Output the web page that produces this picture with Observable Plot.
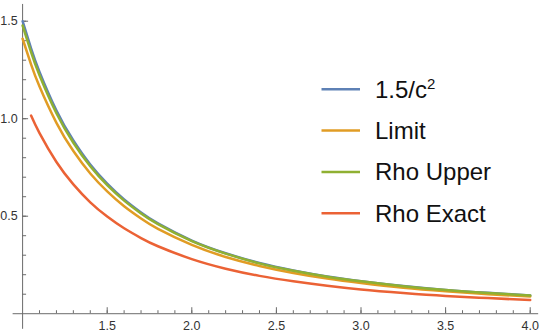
<!DOCTYPE html>
<html><head><meta charset="utf-8">
<script src="https://cdn.jsdelivr.net/npm/d3@7"></script>
<script src="https://cdn.jsdelivr.net/npm/@observablehq/plot@0.6"></script>
<style>body{margin:0;background:#fff;} #chart svg{display:block;font-family:'Liberation Sans',Arial,sans-serif;}</style>
</head><body><div id="chart"></div><script>
// ---- data ----
const cValues   = [1.0, 1.05, 1.1, 1.2, 1.3, 1.4, 1.5, 1.6, 1.7, 1.8, 2.0, 2.2, 2.4, 2.6, 2.8, 3.0, 3.25, 3.5, 3.75, 4.0];
const invSquare = [1.500, 1.361, 1.240, 1.042, 0.888, 0.765, 0.667, 0.586, 0.519, 0.463, 0.375, 0.310, 0.260, 0.222, 0.191, 0.167, 0.142, 0.122, 0.107, 0.094];
const limit     = [1.410, 1.279, 1.165, 0.979, 0.834, 0.719, 0.627, 0.551, 0.488, 0.435, 0.353, 0.291, 0.245, 0.209, 0.180, 0.157, 0.133, 0.115, 0.100, 0.088];
const rhoUpper  = [1.478, 1.342, 1.223, 1.028, 0.877, 0.756, 0.659, 0.580, 0.514, 0.459, 0.372, 0.308, 0.258, 0.220, 0.190, 0.166, 0.141, 0.121, 0.106, 0.093];
const rhoExact  = [null, 1.016, 0.926, 0.778, 0.663, 0.571, 0.498, 0.438, 0.388, 0.346, 0.280, 0.231, 0.194, 0.166, 0.143, 0.124, 0.106, 0.091, 0.080, 0.070];
const seriesNames  = ["1.5/c2", "Limit", "Rho Upper", "Rho Exact"];
const seriesColors = ["#5E81B5", "#E19C24", "#8FB032", "#EB6235"];
const xMajorTicks = [1.5, 2.0, 2.5, 3.0, 3.5, 4.0];
const xTickLabels = ["1.5", "2.0", "2.5", "3.0", "3.5", "4.0"];
const yMajorTicks = [0.5, 1.0, 1.5];
const yTickLabels = ["0.5", "1.0", "1.5"];
const xMinorTicks = d3.range(11, 41).map(d => d / 10);
const yMinorTicks = d3.range(1, 16).map(d => d / 10);

// ---- layout ----
const W = 544, H = 336;
const xDomain = [0.8694, 4.0845];
const yDomain = [-0.1169, 1.6062];
const axisX = [0.944, 4.05];   // extent of horizontal axis line
const axisY = [-0.08, 1.586];  // extent of vertical axis line
const pxY = (yDomain[1] - yDomain[0]) / H;
const pxX = (xDomain[1] - xDomain[0]) / W;
const axisColor = "#6b6b6b";
const fontStack = "'Liberation Sans', Arial, sans-serif";

const allSeries = [invSquare, limit, rhoUpper, rhoExact];
const rows = [];
allSeries.forEach((vals, i) => vals.forEach((v, j) => {
  if (v != null) rows.push({c: cValues[j], v, series: seriesNames[i]});
}));

const xMaj = xMajorTicks.map((t, i) => ({t, label: xTickLabels[i]}));
const yMaj = yMajorTicks.map((t, i) => ({t, label: yTickLabels[i]}));

const svg = Plot.plot({
  width: W, height: H,
  marginLeft: 0, marginRight: 0, marginTop: 0, marginBottom: 0,
  style: {fontFamily: fontStack, background: "#fff", fontSize: "12px"},
  x: {domain: xDomain, axis: null},
  y: {domain: yDomain, axis: null},
  color: {domain: seriesNames, range: seriesColors},
  marks: [
    // axes
    Plot.ruleY([0], {x1: axisX[0], x2: axisX[1], stroke: axisColor, strokeWidth: 1}),
    Plot.ruleX([1], {y1: axisY[0], y2: axisY[1], stroke: axisColor, strokeWidth: 1}),
    // x ticks
    Plot.ruleX(xMinorTicks, {x: d => d, y1: 0, y2: 3 * pxY, stroke: axisColor, strokeWidth: 1}),
    Plot.ruleX(xMajorTicks, {x: d => d, y1: 0, y2: 6 * pxY, stroke: axisColor, strokeWidth: 1}),
    Plot.text(xMaj, {x: "t", y: 0, text: "label", dy: 12, fontSize: 12.5, fontFamily: fontStack, fill: "#333", textAnchor: "middle"}),
    // y ticks
    Plot.ruleY(yMinorTicks, {y: d => d, x1: 1, x2: 1 + 4 * pxX, stroke: axisColor, strokeWidth: 1}),
    Plot.ruleY(yMajorTicks, {y: d => d, x1: 1, x2: 1 + 6 * pxX, stroke: axisColor, strokeWidth: 1}),
    Plot.text(yMaj, {x: 1, y: "t", text: "label", dx: -5, fontSize: 12.5, fontFamily: fontStack, fill: "#333", textAnchor: "end"}),
    // curves
    Plot.line(rows, {x: "c", y: "v", z: "series", stroke: "series", strokeWidth: 2.5, curve: "natural"})
  ]
});

// legend
const lg = d3.select(svg).append("g")
  .attr("font-family", fontStack).attr("text-anchor", "start");
seriesNames.forEach((name, i) => {
  const cy = 89.3 + i * 41.3;
  lg.append("line").attr("x1", 321.5).attr("x2", 360).attr("y1", cy).attr("y2", cy)
    .attr("stroke", seriesColors[i]).attr("stroke-width", 2.5);
  const t = lg.append("text").attr("x", 375).attr("y", cy).attr("dy", "0.35em")
    .attr("font-size", 24).attr("fill", "#111").attr("text-anchor", "start");
  if (name === "1.5/c2") {
    t.append("tspan").text("1.5/c");
    t.append("tspan").text("2").attr("font-size", 15).attr("dy", "-0.6em");
  } else {
    t.text(name);
  }
});

document.getElementById("chart").appendChild(svg);
</script></body></html>
